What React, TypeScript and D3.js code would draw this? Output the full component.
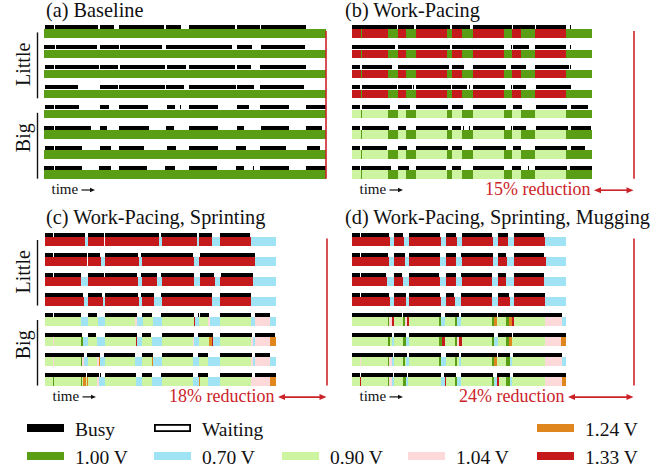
import React from "react";
import * as d3 from "d3";

// ---- voltage levels and their colours ----
const LEVELS = ["1.00", "0.70", "0.90", "1.04", "1.24", "1.33"];
const LEVEL_COLORS = ["#5a9e16", "#9fe3f5", "#cdf5a1", "#fdd9da", "#e0861f", "#c51a1c"];

// total run time of the baseline (time units)
const BASELINE_TOTAL = 282;

// ---- (a) Baseline: busy intervals per core (4 little, then 4 big) ----
const baselineBusy: number[][][] = [
  [[1, 10], [11, 54], [56, 70], [75, 120], [122, 137], [145, 191], [193, 216], [217, 262]],
  [[0, 11], [12, 53], [56, 75], [76, 118], [122, 188], [193, 208], [217, 261]],
  [[1, 10], [11, 55], [56, 74], [76, 121], [123, 142], [145, 191], [193, 207], [216, 262]],
  [[1, 34], [56, 74], [75, 121], [122, 140], [145, 192], [193, 210], [216, 260]],
  [[1, 10], [11, 35], [56, 65], [75, 104], [123, 131], [136, 137], [145, 174], [193, 205], [216, 245], [262, 282]],
  [[0, 10], [11, 47], [56, 63], [75, 105], [122, 130], [145, 174], [193, 200], [217, 245], [262, 278]],
  [[1, 10], [11, 38], [56, 67], [75, 100], [123, 132], [145, 174], [192, 202], [216, 242], [263, 276]],
  [[0, 10], [11, 38], [55, 67], [75, 103], [121, 131], [145, 173], [192, 200], [209, 210], [216, 245], [262, 282]],
];
const baselineVolt: [number, number, string][][] = [0, 1, 2, 3, 4, 5, 6, 7].map(() => [[0, 282, "1.00"]]);

// ---- (b) Work-Pacing ----
const pacingBusy: number[][][] = [
  [[0, 45], [46, 62], [64, 98], [100, 118], [121, 160], [161, 183], [184, 214], [218, 219]],
  [[0, 43], [46, 98], [100, 152], [159, 160], [161, 177], [183, 214], [218, 219]],
  [[0, 8], [10, 40], [46, 97], [100, 112], [121, 154], [159, 174], [183, 217], [218, 219]],
  [[0, 8], [10, 45], [46, 60], [61, 62], [64, 99], [100, 115], [117, 118], [121, 153], [159, 160], [161, 174], [184, 219]],
  [[0, 8], [10, 38], [46, 58], [64, 96], [100, 111], [121, 154], [161, 170], [184, 215], [219, 236]],
  [[0, 8], [10, 37], [46, 54], [64, 96], [100, 109], [111, 112], [117, 118], [121, 153], [159, 160], [161, 174], [184, 216], [219, 239]],
  [[0, 8], [10, 35], [46, 55], [64, 96], [100, 110], [121, 154], [161, 169], [183, 215], [219, 233]],
  [[0, 8], [9, 39], [46, 57], [64, 94], [100, 109], [121, 152], [160, 169], [176, 177], [183, 215], [218, 240]],
];
const pacingLittleVolt: [number, number, string][] = [
  [0, 9, "1.33"], [9, 10, "1.00"], [10, 36, "1.33"], [36, 46, "1.00"], [46, 54, "1.33"], [54, 64, "1.00"],
  [64, 95, "1.33"], [95, 100, "1.00"], [100, 110, "1.33"], [110, 121, "1.00"], [121, 152, "1.33"],
  [152, 160, "1.00"], [160, 169, "1.33"], [169, 183, "1.00"], [183, 214, "1.33"], [214, 240, "1.00"],
];
const pacingBigVolt: [number, number, string][] = [
  [0, 9, "0.90"], [9, 10, "1.00"], [10, 36, "0.90"], [36, 46, "1.00"], [46, 54, "0.90"], [54, 64, "1.00"],
  [64, 95, "0.90"], [95, 100, "1.00"], [100, 110, "0.90"], [110, 121, "1.00"], [121, 152, "0.90"],
  [152, 160, "1.00"], [160, 169, "0.90"], [169, 183, "1.00"], [183, 214, "0.90"], [214, 240, "1.00"],
];
const pacingVolt = [
  pacingLittleVolt, pacingLittleVolt, pacingLittleVolt, pacingLittleVolt,
  pacingBigVolt, pacingBigVolt, pacingBigVolt, pacingBigVolt,
];

// ---- (c) Work-Pacing, Sprinting ----
const sprintBusy: number[][][] = [
  [[0, 8], [9, 40], [43, 59], [60, 114], [116, 152], [154, 167], [175, 205]],
  [[0, 8], [9, 42], [43, 55], [60, 93], [96, 148], [155, 210]],
  [[0, 8], [9, 36], [43, 59], [60, 92], [96, 112], [116, 149], [155, 169], [176, 208]],
  [[0, 38], [43, 57], [60, 93], [96, 109], [116, 167], [175, 206]],
  [[0, 8], [9, 36], [43, 52], [60, 92], [97, 107], [116, 149], [153, 154], [155, 164], [175, 206], [210, 225]],
  [[0, 37], [43, 51], [60, 92], [97, 106], [117, 149], [153, 168], [175, 207], [210, 230]],
  [[0, 39], [42, 55], [59, 90], [97, 108], [117, 148], [153, 163], [175, 207], [210, 225]],
  [[0, 41], [42, 54], [55, 56], [60, 91], [97, 107], [116, 148], [153, 163], [175, 207], [210, 231]],
];
const sprintVolt: [number, number, string][][] = [
  [[0, 40, "1.33"], [40, 43, "0.70"], [43, 59, "1.33"], [60, 114, "1.33"], [114, 117, "0.70"], [117, 152, "1.33"],
   [152, 154, "0.70"], [154, 167, "1.33"], [167, 175, "0.70"], [175, 206, "1.33"], [206, 231, "0.70"]],
  [[0, 42, "1.33"], [43, 56, "1.33"], [56, 60, "0.70"], [60, 94, "1.33"], [94, 97, "0.70"], [97, 149, "1.33"],
   [149, 154, "0.70"], [154, 210, "1.33"], [210, 231, "0.70"]],
  [[0, 36, "1.33"], [36, 43, "0.70"], [43, 93, "1.33"], [93, 97, "0.70"], [97, 112, "1.33"], [112, 117, "0.70"],
   [117, 149, "1.33"], [149, 155, "0.70"], [155, 170, "1.33"], [170, 175, "0.70"], [175, 208, "1.33"], [208, 231, "0.70"]],
  [[0, 39, "1.33"], [39, 43, "0.70"], [43, 58, "1.33"], [58, 60, "0.70"], [60, 94, "1.33"], [94, 97, "0.70"],
   [97, 109, "1.33"], [109, 117, "0.70"], [117, 167, "1.33"], [167, 175, "0.70"], [175, 206, "1.33"], [206, 231, "0.70"]],
  [[0, 36, "0.90"], [36, 43, "0.70"], [43, 53, "0.90"], [53, 60, "0.70"], [60, 90, "0.90"], [90, 92, "1.04"],
   [92, 98, "0.70"], [98, 108, "0.90"], [108, 117, "0.70"], [117, 149, "0.90"], [149, 150, "1.33"], [150, 154, "0.70"],
   [154, 163, "0.90"], [163, 165, "1.04"], [165, 175, "0.70"], [175, 206, "0.90"], [206, 210, "0.70"],
   [210, 225, "1.04"], [225, 231, "0.70"]],
  [[0, 8, "0.90"], [8, 9, "1.04"], [9, 36, "0.90"], [36, 38, "1.00"], [38, 43, "0.70"], [43, 52, "0.90"],
   [52, 60, "0.70"], [60, 91, "0.90"], [91, 92, "1.33"], [92, 97, "0.70"], [97, 107, "0.90"], [107, 117, "0.70"],
   [117, 148, "0.90"], [148, 149, "1.04"], [149, 154, "0.70"], [154, 164, "0.90"], [164, 167, "1.24"],
   [167, 168, "1.33"], [168, 175, "0.70"], [175, 206, "0.90"], [206, 208, "1.04"], [208, 210, "0.70"],
   [210, 225, "1.04"], [225, 231, "1.24"]],
  [[0, 8, "0.90"], [8, 9, "1.04"], [9, 36, "0.90"], [36, 37, "1.00"], [37, 39, "1.04"], [39, 43, "0.70"],
   [43, 52, "0.90"], [52, 54, "1.04"], [54, 55, "1.24"], [55, 60, "0.70"], [60, 90, "0.90"], [90, 97, "0.70"],
   [97, 107, "0.90"], [107, 108, "1.24"], [108, 117, "0.70"], [117, 148, "0.90"], [148, 154, "0.70"],
   [154, 163, "0.90"], [163, 175, "0.70"], [175, 206, "0.90"], [206, 208, "1.04"], [208, 210, "0.70"],
   [210, 225, "1.04"], [225, 231, "0.70"]],
  [[0, 8, "0.90"], [8, 9, "1.00"], [9, 36, "0.90"], [36, 37, "1.00"], [37, 38, "0.90"], [38, 41, "1.24"],
   [41, 42, "0.90"], [42, 43, "1.24"], [43, 52, "0.90"], [52, 54, "1.04"], [54, 60, "0.70"], [60, 91, "0.90"],
   [91, 97, "0.70"], [97, 107, "0.90"], [107, 117, "0.70"], [117, 148, "0.90"], [148, 154, "0.70"],
   [154, 155, "1.24"], [155, 163, "0.90"], [163, 175, "0.70"], [175, 206, "0.90"], [206, 225, "1.04"],
   [225, 231, "1.24"]],
];

// ---- (d) Work-Pacing, Sprinting, Mugging ----
const muggingBusy: number[][][] = [
  [[0, 8], [9, 37], [42, 51], [57, 88], [94, 104], [110, 140], [146, 156], [162, 192]],
  [[0, 8], [9, 36], [42, 53], [57, 88], [94, 104], [109, 141], [146, 154], [162, 192]],
  [[0, 8], [9, 34], [42, 50], [57, 87], [94, 104], [109, 140], [146, 154], [162, 192]],
  [[0, 8], [9, 37], [42, 54], [57, 88], [94, 102], [109, 140], [146, 157], [162, 193]],
  [[0, 50], [51, 89], [93, 107], [109, 145], [146, 210]],
  [[0, 40], [42, 54], [57, 142], [146, 160], [161, 214]],
  [[0, 41], [42, 55], [57, 89], [94, 107], [109, 145], [146, 158], [161, 210]],
  [[0, 8], [9, 41], [42, 55], [56, 89], [92, 104], [109, 141], [145, 158], [161, 214]],
];
const muggingVolt: [number, number, string][][] = [
  [[0, 38, "1.33"], [38, 42, "0.70"], [42, 52, "1.33"], [52, 57, "0.70"], [57, 89, "1.33"], [89, 94, "0.70"],
   [94, 105, "1.33"], [105, 110, "0.70"], [110, 141, "1.33"], [141, 146, "0.70"], [146, 156, "1.33"],
   [156, 162, "0.70"], [162, 193, "1.33"], [193, 214, "0.70"]],
  [[0, 37, "1.33"], [37, 42, "0.70"], [42, 53, "1.33"], [53, 57, "0.70"], [57, 88, "1.33"], [88, 94, "0.70"],
   [94, 104, "1.33"], [104, 110, "0.70"], [110, 141, "1.33"], [141, 146, "0.70"], [146, 155, "1.33"],
   [155, 162, "0.70"], [162, 194, "1.33"], [194, 214, "0.70"]],
  [[0, 35, "1.33"], [35, 42, "0.70"], [42, 51, "1.33"], [51, 57, "0.70"], [57, 88, "1.33"], [88, 94, "0.70"],
   [94, 104, "1.33"], [104, 110, "0.70"], [110, 140, "1.33"], [140, 146, "0.70"], [146, 154, "1.33"],
   [154, 162, "0.70"], [162, 192, "1.33"], [192, 214, "0.70"]],
  [[0, 38, "1.33"], [38, 42, "0.70"], [42, 54, "1.33"], [54, 57, "0.70"], [57, 89, "1.33"], [89, 94, "0.70"],
   [94, 103, "1.33"], [103, 109, "0.70"], [109, 140, "1.33"], [140, 146, "0.70"], [146, 158, "1.33"],
   [158, 162, "0.70"], [162, 193, "1.33"], [193, 214, "0.70"]],
  [[0, 36, "0.90"], [36, 37, "1.00"], [37, 40, "1.04"], [40, 42, "1.33"], [42, 51, "0.90"], [51, 53, "1.00"],
   [53, 55, "1.04"], [55, 57, "1.33"], [57, 87, "0.90"], [87, 89, "1.00"], [89, 93, "0.70"], [93, 103, "0.90"],
   [103, 105, "1.00"], [105, 109, "0.70"], [109, 140, "0.90"], [140, 142, "1.00"], [142, 145, "1.24"],
   [145, 154, "0.90"], [154, 157, "1.00"], [157, 160, "1.24"], [160, 162, "1.33"], [162, 193, "0.90"],
   [193, 210, "1.04"], [210, 214, "0.70"]],
  [[0, 36, "0.90"], [36, 38, "1.00"], [38, 40, "0.90"], [40, 42, "0.70"], [42, 51, "0.90"], [51, 54, "1.00"],
   [54, 57, "0.70"], [57, 87, "0.90"], [87, 90, "1.00"], [90, 93, "1.33"], [93, 103, "0.90"], [103, 105, "1.00"],
   [105, 107, "1.04"], [107, 110, "1.33"], [110, 140, "0.90"], [140, 142, "1.00"], [142, 146, "0.70"],
   [146, 154, "0.90"], [154, 157, "1.00"], [157, 160, "1.24"], [160, 193, "0.90"], [193, 209, "1.04"],
   [209, 214, "1.24"]],
  [[0, 8, "0.90"], [8, 9, "1.04"], [9, 36, "0.90"], [36, 37, "1.00"], [37, 40, "1.04"], [40, 42, "0.70"],
   [42, 51, "0.90"], [51, 53, "1.00"], [53, 54, "0.90"], [54, 57, "0.70"], [57, 87, "0.90"], [87, 89, "1.00"],
   [89, 94, "0.70"], [94, 103, "0.90"], [103, 105, "1.00"], [105, 107, "0.90"], [107, 109, "0.70"],
   [109, 140, "0.90"], [140, 142, "1.00"], [142, 145, "1.24"], [145, 154, "0.90"], [154, 158, "1.00"],
   [158, 160, "0.70"], [160, 193, "0.90"], [193, 210, "1.04"], [210, 214, "0.70"]],
  [[0, 8, "0.90"], [8, 9, "1.33"], [9, 36, "0.90"], [36, 37, "1.00"], [37, 40, "1.04"], [40, 42, "0.70"],
   [42, 51, "0.90"], [51, 54, "1.00"], [54, 56, "0.70"], [56, 89, "0.90"], [89, 93, "0.70"], [93, 94, "1.33"],
   [94, 103, "0.90"], [103, 105, "1.00"], [105, 109, "0.70"], [109, 140, "0.90"], [140, 142, "1.00"],
   [142, 145, "0.70"], [145, 147, "1.33"], [147, 154, "0.90"], [154, 158, "1.00"], [158, 160, "0.70"],
   [160, 193, "0.90"], [193, 210, "1.04"], [210, 214, "1.24"]],
];

const PANEL_TITLES = [
  "(a) Baseline",
  "(b) Work-Pacing",
  "(c) Work-Pacing, Sprinting",
  "(d) Work-Pacing, Sprinting, Mugging",
];
const CORE_GROUPS = ["Little", "Big"];

const FONT = "'Liberation Serif', 'Times New Roman', Times, serif";
const RED = "#cc2329";

const voltColor = d3.scaleOrdinal<string, string>().domain(LEVELS).range(LEVEL_COLORS);

type PanelSpec = {
  title: string;
  x0: number;
  y0: number;
  pitch: number;
  titleX: number;
  titleY: number;
  busy: number[][][];
  volt: [number, number, string][][];
  showReduction: boolean;
  showGroups: boolean;
};

const panels: PanelSpec[] = [
  { title: PANEL_TITLES[0], x0: 44, y0: 29.4, pitch: 20.1, titleX: 46, titleY: 16.5, busy: baselineBusy, volt: baselineVolt, showReduction: false, showGroups: true },
  { title: PANEL_TITLES[1], x0: 352, y0: 29.4, pitch: 20.1, titleX: 345, titleY: 16.5, busy: pacingBusy, volt: pacingVolt, showReduction: true, showGroups: false },
  { title: PANEL_TITLES[2], x0: 45, y0: 237, pitch: 20, titleX: 46, titleY: 224, busy: sprintBusy, volt: sprintVolt, showReduction: true, showGroups: true },
  { title: PANEL_TITLES[3], x0: 352, y0: 237, pitch: 20, titleX: 345, titleY: 224, busy: muggingBusy, volt: muggingVolt, showReduction: true, showGroups: false },
];

const BAR_H = 8.6;
const BUSY_H = 4;
const BUSY_GAP = 0.4;

function Arrow({ x1, x2, y, color, head, half, both, width }: {
  x1: number; x2: number; y: number; color: string; head: number; half: number; both: boolean; width: number;
}) {
  return (
    <g>
      <line x1={both ? x1 + head * 0.6 : x1} x2={x2 - head * 0.6} y1={y} y2={y} stroke={color} strokeWidth={width} />
      <path d={`M${x2},${y} L${x2 - head},${y - half} L${x2 - head},${y + half} Z`} fill={color} />
      {both && <path d={`M${x1},${y} L${x1 + head},${y - half} L${x1 + head},${y + half} Z`} fill={color} />}
    </g>
  );
}

function Panel({ p }: { p: PanelSpec }) {
  const x = d3.scaleLinear().domain([0, BASELINE_TOTAL]).range([p.x0, p.x0 + BASELINE_TOTAL]);
  const rowTop = (i: number) => p.y0 + i * p.pitch;
  const total = d3.max(p.volt, (row) => d3.max(row, (s) => s[1])) as number;
  const endX = x(total);
  const baseX = x(BASELINE_TOTAL);
  const lastBottom = rowTop(7) + BAR_H;
  const reduction = Math.round((1 - total / BASELINE_TOTAL) * 100);

  return (
    <g>
      <text x={p.titleX} y={p.titleY} fontSize={20.3} fontFamily={FONT} fill="#111">{p.title}</text>

      {p.showGroups && CORE_GROUPS.map((g, gi) => {
        const top = rowTop(gi * 4) + 3;
        const bottom = rowTop(gi * 4 + 3) + BAR_H;
        const mid = (top + bottom) / 2 - (gi === 1 ? 8 : 1);
        return (
          <g key={g}>
            <line x1={37.5} x2={37.5} y1={top} y2={bottom} stroke="#111" strokeWidth={1.4} />
            <text transform={`translate(29.5,${mid}) rotate(-90)`} textAnchor="middle" fontSize={20} fontFamily={FONT} fill="#111">{g}</text>
          </g>
        );
      })}

      {p.volt.map((row, i) => (
        <g key={`v${i}`}>
          {row.map((s, j) => (
            <rect key={j} x={x(s[0])} y={rowTop(i)} width={x(s[1]) - x(s[0])} height={BAR_H}
              fill={voltColor(s[2])} shapeRendering="crispEdges" />
          ))}
        </g>
      ))}
      {p.busy.map((row, i) => (
        <g key={`b${i}`}>
          {row.map((s, j) => (
            <rect key={j} x={x(s[0])} y={rowTop(i) - BUSY_GAP - BUSY_H} width={x(s[1]) - x(s[0])} height={BUSY_H}
              fill="#000" shapeRendering="crispEdges" />
          ))}
        </g>
      ))}

      {/* end of the baseline run */}
      <line x1={baseX} x2={baseX} y1={rowTop(0) + 1.5} y2={lastBottom} stroke={RED} strokeWidth={1.6} />

      <text x={p.x0 + 7.5} y={lastBottom + 15} fontSize={15} fontFamily={FONT} fill="#111">time</text>
      <Arrow x1={p.x0 + 37.5} x2={p.x0 + 51} y={lastBottom + 11.3} color="#111" head={5} half={2.2} both={false} width={1.2} />

      {p.showReduction && (
        <g>
          <text x={endX - 1.5} y={lastBottom + 16.5} textAnchor="end" fontSize={18} fontFamily={FONT} fill={RED}>
            {`${reduction}% reduction`}
          </text>
          <Arrow x1={endX + 2} x2={baseX - 0.5} y={lastBottom + 11.5} color={RED} head={7} half={3} both={true} width={1.6} />
        </g>
      )}
    </g>
  );
}

// legend layout: two rows of five slots
const LEGEND_COLS = [27, 154, 282, 408, 537];
const legendItems: { label: string; fill: string; stroke?: string; col: number; row: number }[] = [
  { label: "Busy", fill: "#000", col: 0, row: 0 },
  { label: "Waiting", fill: "#fff", stroke: "#000", col: 1, row: 0 },
  { label: `${LEVELS[4]} V`, fill: voltColor(LEVELS[4]), col: 4, row: 0 },
  { label: `${LEVELS[0]} V`, fill: voltColor(LEVELS[0]), col: 0, row: 1 },
  { label: `${LEVELS[1]} V`, fill: voltColor(LEVELS[1]), col: 1, row: 1 },
  { label: `${LEVELS[2]} V`, fill: voltColor(LEVELS[2]), col: 2, row: 1 },
  { label: `${LEVELS[3]} V`, fill: voltColor(LEVELS[3]), col: 3, row: 1 },
  { label: `${LEVELS[5]} V`, fill: voltColor(LEVELS[5]), col: 4, row: 1 },
];

export default function App() {
  return (
    <svg width={663} height={467} style={{ display: "block", position: "absolute", left: 0, top: 0, background: "#fff" }}>
      {panels.map((p, i) => <Panel key={i} p={p} />)}
      {legendItems.map((it) => {
        const sx = LEGEND_COLS[it.col];
        const sy = 424 + it.row * 28;
        return (
          <g key={it.label}>
            <rect x={sx + (it.stroke ? 0.9 : 0)} y={sy + (it.stroke ? 0.9 : 0)} width={37 - (it.stroke ? 1.8 : 0)} height={8 - (it.stroke ? 1.8 : 0)}
              fill={it.fill} stroke={it.stroke ?? "none"} strokeWidth={1.8} />
            <text x={sx + 48} y={sy + 12} fontSize={19.5} fontFamily={FONT} fill="#111">{it.label}</text>
          </g>
        );
      })}
    </svg>
  );
}
